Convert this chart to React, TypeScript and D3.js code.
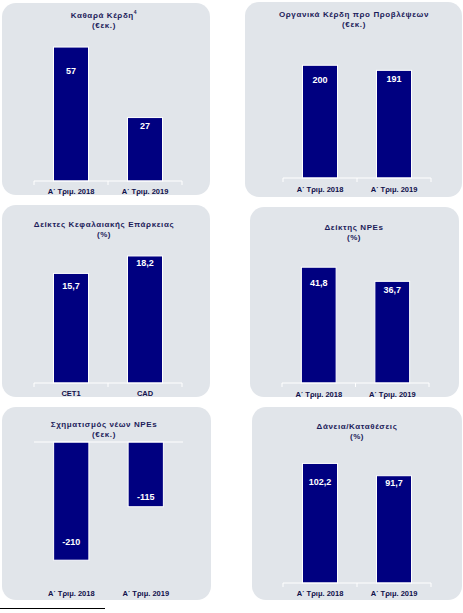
import React from "react";
import * as d3 from "d3";

// ---- data ----
const quarterCats = ["Α΄ Τριμ. 2018", "Α΄ Τριμ. 2019"];
const capitalCats = ["CET1", "CAD"];

const netProfitValues = [57, 27];
const organicProfitValues = [200, 191];
const capitalRatioValues = [15.7, 18.2];
const npeRatioValues = [41.8, 36.7];
const npeFormationValues = [-210, -115];
const loansDepositsValues = [102.2, 91.7];

const titles = [
  ["Καθαρά Κέρδη", "(€εκ.)"],
  ["Οργανικά Κέρδη προ Προβλέψεων", "(€εκ.)"],
  ["Δείκτες Κεφαλαιακής Επάρκειας", "(%)"],
  ["Δείκτης NPEs", "(%)"],
  ["Σχηματισμός νέων NPEs", "(€εκ.)"],
  ["Δάνεια/Καταθέσεις", "(%)"],
];
const titleSuperscripts = ["4", "", "", "", "", ""];

// ---- layout ----
interface Panel {
  rect: [number, number, number, number];
  axis: [number, number];
  baseline: number;
  domain: [number, number];
  range: [number, number];
  titleX: number;
  titleY: number;
  catY: number;
  labelDy: number[];
  cats: string[];
  values: number[];
  decimals: number;
}

const panels: Panel[] = [
  { rect: [2, 3, 208, 192], axis: [34, 182], baseline: 181, domain: [0, 60], range: [181, 40], titleX: 104, titleY: 16, catY: 192, labelDy: [25, 9], cats: quarterCats, values: netProfitValues, decimals: 0 },
  { rect: [245, 2, 217, 195], axis: [283, 431], baseline: 178, domain: [0, 220], range: [178, 54], titleX: 354, titleY: 15, catY: 190, labelDy: [15, 9], cats: quarterCats, values: organicProfitValues, decimals: 0 },
  { rect: [2, 205, 208, 192], axis: [34, 182], baseline: 383, domain: [0, 20], range: [383, 243.4], titleX: 104, titleY: 225, catY: 394, labelDy: [13, 8], cats: capitalCats, values: capitalRatioValues, decimals: 1 },
  { rect: [250, 207, 209, 190], axis: [282, 429], baseline: 383, domain: [0, 50], range: [383, 244.5], titleX: 354, titleY: 228, catY: 395, labelDy: [16, 9], cats: quarterCats, values: npeRatioValues, decimals: 1 },
  { rect: [2, 407, 209, 193], axis: [34, 183], baseline: 442, domain: [-250, 0], range: [582.7, 442], titleX: 104, titleY: 425, catY: 594, labelDy: [-18, -9], cats: quarterCats, values: npeFormationValues, decimals: 0 },
  { rect: [252, 407, 210, 193], axis: [283, 431], baseline: 583, domain: [0, 120], range: [583, 442.6], titleX: 357, titleY: 427, catY: 594, labelDy: [19, 8], cats: quarterCats, values: loansDepositsValues, decimals: 1 },
];

const BAR = "#000080";
const BG = "#e1e5ea";
const TITLE = "#1c1c5a";
const CAT = "#10104a";
const FONT = "'Liberation Sans', Arial, sans-serif";

const fmt = (v: number, d: number) => v.toFixed(d).replace(".", ",");

function ChartPanel({ p, i }: { p: Panel; i: number }) {
  const x = d3.scaleBand<string>().domain(p.cats).range(p.axis).paddingInner(0.527).paddingOuter(0.2635);
  const y = d3.scaleLinear().domain(p.domain).range(p.range);
  const step = x.step();
  const negative = p.domain[1] <= 0;
  const tickXs = [p.axis[0], p.axis[0] + step, p.axis[0] + 2 * step];
  const [rx, ry, rw, rh] = p.rect;
  return (
    <g>
      <rect x={rx} y={ry} width={rw} height={rh} rx={14} ry={14} fill={BG} />
      <text x={p.titleX} y={p.titleY} textAnchor="middle" dominantBaseline="middle" fontFamily={FONT} fontSize={8} fontWeight="bold" letterSpacing={0.6} fill={TITLE}>
        {titles[i][0]}
        {titleSuperscripts[i] ? <tspan fontSize={5} dy={-3}>{titleSuperscripts[i]}</tspan> : null}
      </text>
      <text x={p.titleX} y={p.titleY + 9.5} textAnchor="middle" dominantBaseline="middle" fontFamily={FONT} fontSize={8} fontWeight="bold" letterSpacing={0.6} fill={TITLE}>
        {titles[i][1]}
      </text>
      {p.values.map((v, j) => {
        const c = p.cats[j];
        const y0 = y(0);
        const y1 = y(v);
        const top = Math.min(y0, y1);
        const h = Math.abs(y1 - y0);
        const end = y1;
        return (
          <g key={c}>
            <rect x={x(c)} y={top} width={x.bandwidth()} height={h} fill={BAR} stroke="#ffffff" strokeWidth={1} />
            <text x={(x(c) as number) + x.bandwidth() / 2} y={end + p.labelDy[j]} textAnchor="middle" dominantBaseline="middle" fontFamily={FONT} fontSize={9} fontWeight="bold" fill="#ffffff">
              {fmt(v, p.decimals)}
            </text>
            <text x={(x(c) as number) + x.bandwidth() / 2} y={p.catY} textAnchor="middle" dominantBaseline="middle" fontFamily={FONT} fontSize={7.5} fontWeight="bold" fill={CAT}>
              {c}
            </text>
          </g>
        );
      })}
      <line x1={p.axis[0]} x2={p.axis[1]} y1={p.baseline} y2={p.baseline} stroke="#ffffff" strokeWidth={1} />
      {!negative &&
        tickXs.map((tx, k) => (
          <line key={k} x1={tx} x2={tx} y1={p.baseline} y2={p.baseline + 4} stroke="#ffffff" strokeWidth={1} />
        ))}
    </g>
  );
}

export default function App() {
  return (
    <svg width={463} height={613} style={{ position: "absolute", left: 0, top: 0, background: "#ffffff" }}>
      <rect x={0} y={0} width={463} height={613} fill="#ffffff" />
      {panels.map((p, i) => (
        <ChartPanel key={i} p={p} i={i} />
      ))}
      <line x1={0} x2={105} y1={608.5} y2={608.5} stroke="#000000" strokeWidth={1} />
    </svg>
  );
}
